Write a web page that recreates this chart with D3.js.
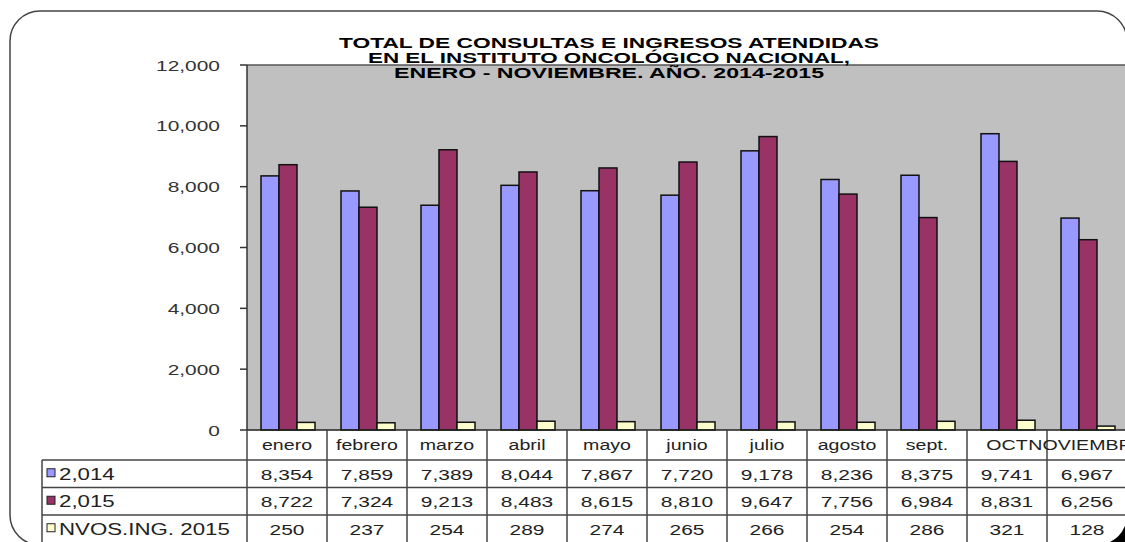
<!DOCTYPE html>
<html>
    <head>
        <meta charset="utf-8">
        <title>Consultas e ingresos</title>
        <script src="https://d3js.org/d3.v7.min.js"></script>
        <style>
            body{ margin: 0; background: #fff; }
            text{ font-family: "Liberation Sans", Arial, sans-serif; fill: #222; }
            .title text{ font-weight: bold; fill: #000; }
        </style>
    </head>
    <body>
        <script>
            var months = ["enero","febrero","marzo","abril","mayo","junio","julio","agosto","sept.","OCT","NOVIEMBRE"];
            var y2014 = [8354,7859,7389,8044,7867,7720,9178,8236,8375,9741,6967];
            var y2015 = [8722,7324,9213,8483,8615,8810,9647,7756,6984,8831,6256];
            var nvos  = [250,237,254,289,274,265,266,254,286,321,128];
            var seriesNames = ["2,014","2,015","NVOS.ING. 2015"];
            var colors = ["#9999FF","#993366","#FFFFCC"];
            var yTicks = [0,2000,4000,6000,8000,10000,12000];
            var titleLines = ["TOTAL DE CONSULTAS E INGRESOS ATENDIDAS",
                              "EN EL INSTITUTO ONCOLÓGICO NACIONAL,",
                              "ENERO -  NOVIEMBRE. AÑO. 2014-2015"];

            var W = 1125, H = 542;
            var sx = 1.35; // the picture is stretched sideways
            var plotLeft = 247, plotRight = 1127, plotTop = 65, plotBottom = 430;
            var rowH = 27.5, legendLeft = 42;

            var svg = d3.select("body").append("svg")
                .attr("width", W)
                .attr("height", H);

            function sText(g, x, y, str, anchor, size){
                return g.append("text")
                    .attr("transform", "translate(" + x + "," + y + ") scale(" + sx + ",1)")
                    .attr("text-anchor", anchor)
                    .attr("font-size", size)
                    .text(str);
            }

            // outer frame
            svg.append("rect")
                .attr("x", 10).attr("y", 11)
                .attr("width", 1117).attr("height", 534)
                .attr("rx", 30).attr("ry", 30)
                .attr("fill", "#fff")
                .attr("stroke", "#444").attr("stroke-width", 1.5);

            var xScale = d3.scaleBand().domain(months).range([plotLeft, plotRight]);
            var xInner = d3.scaleBand().domain([0,1,2]).range([14, 68]);
            var yScale = d3.scaleLinear().domain([0,12000]).range([plotBottom, plotTop]);

            // plot area
            svg.append("rect")
                .attr("x", plotLeft).attr("y", plotTop)
                .attr("width", plotRight - plotLeft).attr("height", plotBottom - plotTop)
                .attr("fill", "#C0C0C0");
            svg.append("line")
                .attr("x1", plotLeft).attr("x2", plotRight)
                .attr("y1", plotTop).attr("y2", plotTop)
                .attr("stroke", "#555").attr("stroke-width", 1.5);

            var series = [y2014, y2015, nvos];
            series.forEach(function(vals, si){
                svg.append("g").selectAll("rect").data(vals).enter().append("rect")
                    .attr("x", function(d, i){ return xScale(months[i]) + xInner(si); })
                    .attr("y", function(d){ return yScale(d); })
                    .attr("width", xInner.bandwidth())
                    .attr("height", function(d){ return yScale(0) - yScale(d); })
                    .attr("fill", colors[si])
                    .attr("stroke", "#111").attr("stroke-width", 1.5);
            });

            // y axis
            var yAxis = svg.append("g");
            yAxis.append("line")
                .attr("x1", plotLeft).attr("x2", plotLeft)
                .attr("y1", plotTop).attr("y2", plotBottom)
                .attr("stroke", "#333").attr("stroke-width", 1.5);
            yTicks.forEach(function(t){
                yAxis.append("line")
                    .attr("x1", plotLeft - 7).attr("x2", plotLeft)
                    .attr("y1", yScale(t)).attr("y2", yScale(t))
                    .attr("stroke", "#333").attr("stroke-width", 1.5);
                sText(yAxis, 220, yScale(t) + 5.5, d3.format(",")(t), "end", 15.5)
                    .style("fill", "#333");
            });

            // data table
            var tbl = svg.append("g");
            var rowsTop = plotBottom + 30;
            tbl.append("rect")
                .attr("x", legendLeft).attr("y", rowsTop)
                .attr("width", plotRight - legendLeft).attr("height", rowH * 3)
                .attr("fill", "#fff");
            var lineCol = "#444";
            // horizontal lines
            tbl.append("line").attr("x1", plotLeft).attr("x2", plotRight)
                .attr("y1", plotBottom).attr("y2", plotBottom)
                .attr("stroke", "#222").attr("stroke-width", 1.5);
            [0,1,2].forEach(function(r){
                tbl.append("line").attr("x1", legendLeft).attr("x2", plotRight)
                    .attr("y1", rowsTop + r * rowH).attr("y2", rowsTop + r * rowH)
                    .attr("stroke", lineCol).attr("stroke-width", 1.5);
            });
            tbl.append("line").attr("x1", legendLeft).attr("x2", legendLeft)
                .attr("y1", rowsTop).attr("y2", H)
                .attr("stroke", lineCol).attr("stroke-width", 1.5);
            months.forEach(function(m){
                tbl.append("line").attr("x1", xScale(m)).attr("x2", xScale(m))
                    .attr("y1", plotBottom).attr("y2", H)
                    .attr("stroke", lineCol).attr("stroke-width", 1.5);
            });
            // category labels
            months.forEach(function(m){
                sText(tbl, xScale(m) + xScale.bandwidth() / 2, plotBottom + 20, m, "middle", 14.5);
            });
            // legend keys and values
            series.forEach(function(vals, si){
                var cy = rowsTop + si * rowH + rowH / 2;
                tbl.append("rect")
                    .attr("x", 47).attr("y", cy - 5)
                    .attr("width", 8).attr("height", 8)
                    .attr("fill", colors[si])
                    .attr("stroke", "#222").attr("stroke-width", 1);
                sText(tbl, 59, cy + 6, seriesNames[si], "start", 16.5);
                vals.forEach(function(v, i){
                    sText(tbl, xScale(months[i]) + xScale.bandwidth() / 2, cy + 6, d3.format(",")(v), "middle", 15.5);
                });
            });

            // title
            var title = svg.append("g").attr("class", "title");
            var titleW = [540, 482, 430];
            titleLines.forEach(function(s, i){
                title.append("text")
                    .attr("x", 609).attr("y", 48 + i * 15)
                    .attr("text-anchor", "middle")
                    .attr("font-size", 14.5)
                    .attr("textLength", titleW[i])
                    .attr("lengthAdjust", "spacingAndGlyphs")
                    .text(s);
            });

            // dark corner at the bottom right
            svg.append("path")
                .attr("d", "M1127,515 A30,30 0 0 1 1097,545 L1127,545 Z")
                .attr("fill", "#000");
        </script>
    </body>
</html>
